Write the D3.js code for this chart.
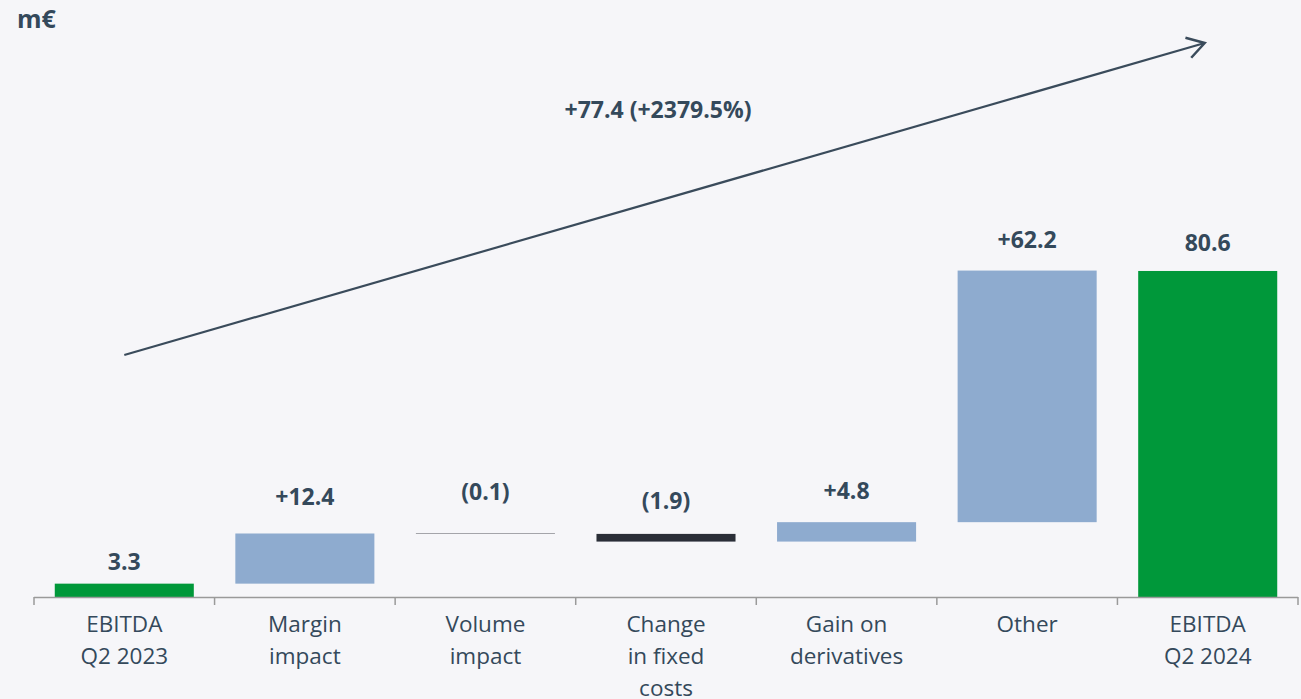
<!DOCTYPE html>
<html>
<head>
<meta charset="utf-8">
<script src="https://cdn.jsdelivr.net/npm/d3@7/dist/d3.min.js"></script>
<style>
  html, body { margin: 0; padding: 0; background: #f6f6f9; }
  svg { display: block; }
</style>
</head>
<body>
<svg id="chart" width="1301" height="699"></svg>
<script>
// EBITDA bridge, Q2 2023 -> Q2 2024 (m€)
const categories = [
  ["EBITDA", "Q2 2023"],
  ["Margin", "impact"],
  ["Volume", "impact"],
  ["Change", "in fixed", "costs"],
  ["Gain on", "derivatives"],
  ["Other"],
  ["EBITDA", "Q2 2024"]
];
const values = [3.3, 12.4, -0.1, -1.9, 4.8, 62.2, 80.6];
const kinds = ["total", "step", "step", "step", "step", "step", "total"];
const unitLabel = "m€";
const bridgeLabel = "+77.4 (+2379.5%)";

// label lift above the bar top (px), per column
const labelLift = [14, 28, 33, 25, 23, 23, 20];

const svg = d3.select("#chart");
const textColor = "#34495b";
const colors = { total: "#00983a", up: "#8eabcf", down: "#2a2e37" };
const font = "'Open Sans', sans-serif";

const x = d3.scaleBand()
  .domain(d3.range(categories.length))
  .range([34, 1298])
  .paddingInner(0.23)
  .paddingOuter(0.115);

const y = d3.scaleLinear().domain([0, 100]).range([597, 192.5]);

// running totals for the floating bars
let running = 0;
const bars = values.map((v, i) => {
  let lo, hi, fill, label;
  if (kinds[i] === "total") {
    lo = 0; hi = v; running = v;
    fill = colors.total;
    label = d3.format(".1f")(v);
  } else {
    const start = running;
    running = start + v;
    lo = Math.min(start, running); hi = Math.max(start, running);
    fill = v >= 0 ? colors.up : colors.down;
    label = v >= 0 ? "+" + d3.format(".1f")(v) : "(" + d3.format(".1f")(-v) + ")";
  }
  return { i, lo, hi, fill, label };
});

// bars
svg.append("g").selectAll("rect")
  .data(bars)
  .join("rect")
  .attr("x", d => x(d.i))
  .attr("width", x.bandwidth())
  .attr("y", d => y(d.hi))
  .attr("height", d => y(d.lo) - y(d.hi))
  .attr("fill", d => d.fill);

// value labels
svg.append("g").selectAll("text")
  .data(bars)
  .join("text")
  .attr("x", d => x(d.i) + x.bandwidth() / 2)
  .attr("y", d => y(d.hi) - labelLift[d.i])
  .attr("text-anchor", "middle")
  .attr("font-family", font)
  .attr("font-weight", "bold")
  .attr("font-size", 23)
  .attr("fill", textColor)
  .text(d => d.label);

// category axis with ticks on band boundaries
const axisG = svg.append("g");
const step = x.step();
const x0 = x.range()[0];
axisG.append("line")
  .attr("x1", x0).attr("x2", x.range()[1])
  .attr("y1", y(0) + 0.5).attr("y2", y(0) + 0.5)
  .attr("stroke", "#9a9a9a").attr("stroke-width", 1.5);
axisG.selectAll("line.tick")
  .data(d3.range(categories.length + 1))
  .join("line")
  .attr("class", "tick")
  .attr("x1", i => x0 + i * step).attr("x2", i => x0 + i * step)
  .attr("y1", y(0)).attr("y2", y(0) + 8)
  .attr("stroke", "#9a9a9a").attr("stroke-width", 1.5);

const catText = axisG.selectAll("text.cat")
  .data(categories)
  .join("text")
  .attr("class", "cat")
  .attr("text-anchor", "middle")
  .attr("font-family", font)
  .attr("font-size", 22.5)
  .attr("fill", textColor)
  .attr("transform", (d, i) => `translate(${x(i) + x.bandwidth() / 2},${y(0) + 35})`);
catText.selectAll("tspan")
  .data(d => d)
  .join("tspan")
  .attr("x", 0)
  .attr("dy", (d, j) => j === 0 ? 0 : 32)
  .text(d => d);

// unit label
svg.append("text")
  .attr("x", 17).attr("y", 28)
  .attr("font-family", font)
  .attr("font-weight", "bold")
  .attr("font-size", 25)
  .attr("fill", textColor)
  .text(unitLabel);

// overall change arrow, first bar centre to last bar centre
const ax1 = x(0) + x.bandwidth() / 2, ay1 = 355;
const ax2 = x(categories.length - 1) + x.bandwidth() / 2 - 3, ay2 = 43;
const arrowColor = "#3a4b5b";
svg.append("line")
  .attr("x1", ax1).attr("y1", ay1)
  .attr("x2", ax2).attr("y2", ay2)
  .attr("stroke", arrowColor).attr("stroke-width", 2.2);
const ang = Math.atan2(ay2 - ay1, ax2 - ax1);
const head = 20, spread = 0.55;
const p1 = [ax2 - head * Math.cos(ang - spread), ay2 - head * Math.sin(ang - spread)];
const p2 = [ax2 - head * Math.cos(ang + spread), ay2 - head * Math.sin(ang + spread)];
svg.append("path")
  .attr("d", `M${p1[0]},${p1[1]}L${ax2},${ay2}L${p2[0]},${p2[1]}`)
  .attr("fill", "none")
  .attr("stroke", arrowColor)
  .attr("stroke-width", 2.5)
  .attr("stroke-linejoin", "miter");

svg.append("text")
  .attr("x", 658).attr("y", 118)
  .attr("text-anchor", "middle")
  .attr("font-family", font)
  .attr("font-weight", "bold")
  .attr("font-size", 23)
  .attr("fill", textColor)
  .text(bridgeLabel);
</script>
</body>
</html>
